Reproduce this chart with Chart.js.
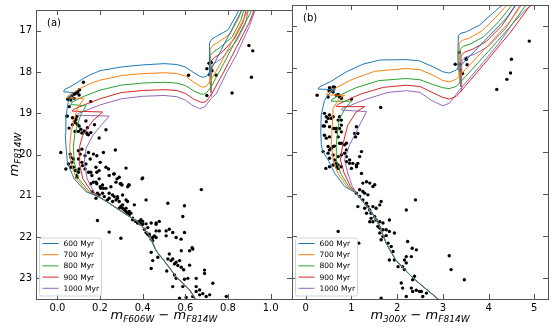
<!DOCTYPE html>
<html>
<head>
<meta charset="utf-8">
<script src="https://cdn.jsdelivr.net/npm/chart.js@4.4.1/dist/chart.umd.min.js"></script>
<style>
html, body { margin: 0; padding: 0; background: #fff; }
#wrap { position: relative; width: 554px; height: 329px; }
#wrap canvas { position: absolute; left: 0; top: 0; }
</style>
</head>
<body>
<div id="wrap">
  <canvas id="panelA" width="554" height="329"></canvas>
  <canvas id="panelB" width="554" height="329"></canvas>
</div>
<script>
// isochrone ages and colours
const ageLabels = ['600 Myr', '700 Myr', '800 Myr', '900 Myr', '1000 Myr'];
const ageColors = ['#1f77b4', '#ff7f0e', '#2ca02c', '#d62728', '#9467bd'];

// tick values
const xTicksA = [0.0, 0.2, 0.4, 0.6, 0.8, 1.0];
const xTicksB = [0, 1, 2, 3, 4, 5];
const yTicks = [17, 18, 19, 20, 21, 22, 23];

// ---- panel (a): F606W - F814W ----
// lower main sequence, common to all ages (faint -> bright)
const msLowA = [[0.66,23.6],[0.62,23.28],[0.557,22.96],[0.51,22.64],[0.463,22.33],[0.432,21.97],[0.40,21.75],[0.37,21.6],[0.337,21.5],[0.29,21.34],[0.243,21.18],[0.2,21.04]];
const isoA600 = [[0.134,20.9],[0.079,20.59],[0.047,20.19],[0.042,19.9],[0.037,19.5],[0.04,19.1],[0.05,18.75],[0.075,18.5],[0.03,18.48],[0.033,18.43],[0.06,18.36],[0.09,18.27],[0.118,18.17],[0.15,18.08],[0.2,17.97],[0.3,17.88],[0.4,17.83],[0.5,17.8],[0.56,17.82],[0.6,17.88],[0.64,18.02],[0.67,18.11],[0.686,18.13],[0.7,18.1],[0.72,17.95],[0.76,17.55],[0.81,17.05],[0.87,16.45],[0.875,16.4]];
const isoA700 = [[0.14,20.9],[0.09,20.59],[0.063,20.19],[0.058,19.8],[0.065,19.45],[0.079,19.15],[0.094,18.88],[0.125,18.64],[0.047,18.63],[0.05,18.58],[0.1,18.42],[0.15,18.29],[0.2,18.2],[0.3,18.09],[0.4,18.04],[0.5,18.02],[0.56,18.04],[0.6,18.1],[0.64,18.25],[0.67,18.35],[0.686,18.37],[0.7,18.34],[0.72,18.2],[0.77,17.75],[0.83,17.15],[0.89,16.55],[0.905,16.4]];
const isoA800 = [[0.15,20.9],[0.10,20.59],[0.079,20.19],[0.075,19.8],[0.082,19.5],[0.094,19.3],[0.11,19.03],[0.135,18.82],[0.063,18.79],[0.068,18.74],[0.12,18.6],[0.2,18.44],[0.3,18.32],[0.4,18.27],[0.5,18.25],[0.56,18.27],[0.6,18.33],[0.64,18.46],[0.67,18.53],[0.686,18.54],[0.7,18.5],[0.72,18.37],[0.78,17.8],[0.84,17.2],[0.9,16.62],[0.92,16.4]];
const isoA900 = [[0.16,20.9],[0.12,20.59],[0.102,20.19],[0.105,19.8],[0.118,19.55],[0.134,19.43],[0.165,19.19],[0.212,18.97],[0.07,18.95],[0.075,18.91],[0.13,18.79],[0.2,18.65],[0.3,18.5],[0.4,18.45],[0.5,18.43],[0.56,18.45],[0.6,18.52],[0.64,18.66],[0.67,18.73],[0.686,18.74],[0.7,18.7],[0.725,18.52],[0.78,18.0],[0.84,17.4],[0.9,16.8],[0.93,16.4]];
const isoA1000 = [[0.17,20.9],[0.14,20.59],[0.126,20.19],[0.135,19.85],[0.165,19.55],[0.196,19.35],[0.243,19.07],[0.094,19.05],[0.1,19.0],[0.15,18.9],[0.2,18.8],[0.3,18.65],[0.4,18.59],[0.5,18.57],[0.56,18.6],[0.6,18.68],[0.63,18.8],[0.667,18.89],[0.69,18.85],[0.72,18.65],[0.745,18.53],[0.79,18.05],[0.84,17.58],[0.9,16.9],[0.934,16.4]];
// core He burning + AGB branches
const agbA600 = [[0.712,18.1],[0.713,17.7],[0.714,17.3],[0.725,17.2],[0.745,17.14],[0.8,16.98],[0.84,16.62],[0.86,16.4]];
const agbA700 = [[0.715,18.3],[0.715,17.8],[0.716,17.45],[0.73,17.35],[0.755,17.28],[0.81,17.08],[0.85,16.7],[0.87,16.4]];
const agbA800 = [[0.717,18.4],[0.717,17.9],[0.718,17.6],[0.735,17.5],[0.76,17.42],[0.82,17.15],[0.86,16.75],[0.88,16.4]];
const agbA900 = [[0.719,18.5],[0.719,18.05],[0.72,17.74],[0.74,17.64],[0.765,17.56],[0.83,17.2],[0.87,16.8],[0.89,16.4]];
const agbA1000 = [[0.721,18.6],[0.721,18.15],[0.722,17.86],[0.745,17.76],[0.77,17.68],[0.84,17.25],[0.88,16.85],[0.9,16.4]];

const starsA = [
  [0.898,17.36],[0.916,17.49],[0.91,18.13],[0.819,18.51],[0.615,18.08],[0.722,17.77],[0.711,17.79],[0.701,17.92],[0.719,17.92],[0.725,17.97],[0.714,18.07],[0.745,18.08],[0.701,18.57],
  [0.122,18.25],[0.104,18.43],[0.091,18.51],[0.08,18.54],[0.068,18.58],[0.056,18.63],[0.049,18.66],[0.157,18.72],[0.056,18.84],[0.044,19.07],[0.091,19.08],[0.08,19.2],[0.071,19.28],[0.083,19.22],
  [0.083,19.44],[0.099,19.44],[0.115,19.48],[0.138,19.48],[0.146,19.52],[0.174,19.28],[0.228,19.4],[0.016,19.95],[0.06,19.99],[0.064,20.07],[0.075,20.11],[0.068,20.19],[0.052,20.23],
  [0.099,19.91],[0.107,19.99],[0.115,19.87],[0.099,20.11],[0.115,20.19],[0.13,20.03],[0.146,19.95],[0.154,20.11],[0.169,19.99],[0.185,20.03],[0.201,20.19],[0.216,19.95],[0.272,19.89],
  [0.322,20.33],[0.24,20.35],[0.264,20.47],[0.28,20.59],[0.295,20.71],[0.303,20.74],[0.334,20.74],[0.397,20.59],[0.075,20.31],[0.083,20.39],[0.091,20.51],[0.091,20.55],[0.099,20.43],
  [0.13,20.35],[0.146,20.43],[0.162,20.51],[0.185,20.43],[0.185,20.71],[0.201,20.78],[0.216,20.82],[0.169,20.67],[0.047,19.07],[0.055,19.36],[0.196,19.6],
  [0.079,18.52],[0.096,18.48],[0.102,18.56],[0.079,18.64],[0.063,18.68],[0.071,19.11],[0.087,19.15],[0.094,19.27],[0.102,19.31],[0.11,19.39],[0.126,19.43],[0.141,19.35],[0.134,19.19],[0.141,19.51],[0.157,19.47],
  [0.04,20.35],[0.063,20.31],[0.087,20.39],[0.102,20.35],[0.118,20.27],[0.134,20.23],[0.157,20.43],[0.181,20.31],[0.196,20.39],[0.228,20.31],[0.243,20.51],[0.267,20.47],[0.29,20.55],[0.275,20.67],
  [0.298,20.71],[0.33,20.78],[0.4,20.57],[0.337,20.74],[0.181,20.67],[0.196,20.59],[0.212,20.74],[0.228,20.82],[0.165,20.9],[0.196,20.98],[0.212,20.94],[0.243,21.06],[0.259,20.98],[0.275,21.1],
  [0.282,21.02],[0.29,21.14],[0.306,21.22],[0.322,21.3],[0.314,21.34],[0.337,21.38],[0.29,21.3],[0.361,21.22],[0.416,21.1],[0.518,21.18],[0.596,21.24],[0.588,21.5],[0.675,20.85],[0.188,21.6],
  [0.243,21.88],[0.298,22.03],[0.353,21.54],[0.369,21.62],[0.384,21.66],[0.4,21.62],[0.392,21.58],[0.416,21.68],[0.44,21.66],[0.463,21.69],[0.478,21.62],[0.424,21.77],[0.431,21.93],[0.447,22.01],
  [0.463,21.85],[0.51,21.85],[0.525,21.81],[0.541,21.89],[0.51,21.97],[0.557,22.01],[0.58,22.05],[0.596,21.89],[0.635,22.29],[0.62,22.33],[0.581,22.33],[0.525,22.41],[0.44,22.37],[0.447,22.57],
  [0.471,22.49],[0.518,22.53],[0.533,22.57],[0.541,22.53],[0.557,22.61],[0.549,22.65],[0.573,22.57],[0.581,22.73],[0.565,22.69],[0.44,22.76],[0.549,22.92],[0.557,23.0],[0.612,23.0],[0.651,23.0],
  [0.69,22.8],[0.69,22.88],[0.729,23.12],[0.541,23.2],[0.588,23.2],[0.651,23.32],[0.667,23.4],[0.682,23.37],[0.635,23.44],[0.714,23.4],[0.792,23.44],[0.604,23.46],[0.651,23.2],[0.667,23.28],
  [0.573,23.48],[0.698,23.44],[0.632,22.26],[0.513,22.82],[0.592,22.79],[0.62,22.68],[0.596,23.02],
  [0.298,21.26],[0.306,21.3],[0.314,21.34],[0.322,21.38],[0.329,21.42],[0.337,21.46],[0.345,21.42],[0.353,21.58],[0.369,21.62],[0.376,21.66],[0.384,21.62],[0.392,21.69],[0.4,21.69],[0.408,21.81],
  [0.416,21.89],[0.424,21.93],[0.431,21.97],[0.44,22.05],[0.447,22.09],[0.455,21.97],[0.463,22.01],[0.478,21.85],[0.463,21.66],
  [0.157,20.71],[0.204,20.82],[0.243,20.94],[0.267,21.02],[0.282,21.06],[0.22,21.02],[0.188,20.94],[0.251,20.78],[0.306,20.98],[0.322,21.1],[0.329,21.14],[0.181,21.06],[0.235,21.1],[0.259,21.14]
];

// ---- panel (b): 300X - F814W ----
const msLowB = [[2.95,23.55],[2.74,23.36],[2.52,23.16],[2.31,22.96],[2.12,22.75],[1.97,22.57],[1.85,22.35],[1.76,22.17],[1.68,21.95],[1.62,21.77],[1.52,21.57],[1.4,21.38],[1.25,21.18],[1.11,20.98]];
const isoB600 = [[0.85,20.82],[0.63,20.5],[0.49,20.19],[0.37,19.98],[0.34,19.83],[0.33,19.5],[0.34,19.12],[0.41,18.77],[0.52,18.6],[0.65,18.52],[0.27,18.5],[0.3,18.45],[0.55,18.32],[0.89,18.09],[1.25,17.91],[1.62,17.81],[2.2,17.8],[2.49,17.83],[2.78,17.97],[3.0,18.09],[3.14,18.12],[3.29,18.05],[3.5,17.82],[4.0,17.25],[4.4,16.8],[4.62,16.45],[4.65,16.4]];
const isoB700 = [[0.9,20.82],[0.7,20.5],[0.6,20.19],[0.56,19.83],[0.58,19.4],[0.6,18.96],[0.74,18.72],[0.85,18.65],[0.45,18.64],[0.47,18.6],[0.7,18.45],[1.0,18.28],[1.5,18.08],[2.2,18.01],[2.5,18.04],[2.8,18.18],[3.0,18.3],[3.14,18.33],[3.29,18.27],[3.5,18.03],[4.0,17.45],[4.5,16.85],[4.75,16.45],[4.78,16.4]];
const isoB800 = [[0.94,20.82],[0.76,20.5],[0.67,20.19],[0.67,19.83],[0.7,19.5],[0.74,19.2],[0.89,18.92],[1.0,18.79],[0.56,18.79],[0.58,18.74],[0.8,18.62],[1.1,18.47],[1.6,18.3],[2.2,18.25],[2.5,18.28],[2.8,18.4],[3.0,18.47],[3.14,18.49],[3.29,18.44],[3.5,18.2],[4.0,17.6],[4.5,16.98],[4.85,16.45],[4.88,16.4]];
const isoB900 = [[0.98,20.82],[0.84,20.5],[0.76,20.19],[0.81,19.83],[0.92,19.36],[1.11,19.04],[1.29,18.92],[0.67,18.92],[0.7,18.87],[0.9,18.77],[1.2,18.62],[1.7,18.46],[2.2,18.41],[2.5,18.44],[2.8,18.6],[3.0,18.7],[3.14,18.74],[3.29,18.68],[3.5,18.42],[4.0,17.78],[4.5,17.12],[4.95,16.45],[4.98,16.4]];
const isoB1000 = [[1.02,20.82],[0.92,20.5],[0.85,20.19],[0.96,19.83],[1.14,19.44],[1.33,19.04],[0.78,19.0],[0.8,18.96],[1.0,18.88],[1.3,18.75],[1.8,18.58],[2.2,18.54],[2.5,18.58],[2.75,18.77],[3.0,18.9],[3.14,18.84],[3.36,18.53],[3.8,17.97],[4.2,17.45],[4.53,16.94],[4.8,16.62],[5.0,16.45],[5.03,16.4]];
const agbB600 = [[3.33,18.05],[3.33,17.6],[3.34,17.22],[3.4,17.17],[3.51,17.14],[3.8,16.98],[4.09,16.7],[4.35,16.45],[4.38,16.4]];
const agbB700 = [[3.35,18.2],[3.35,17.7],[3.36,17.4],[3.43,17.34],[3.56,17.3],[3.85,17.12],[4.15,16.8],[4.45,16.45],[4.48,16.4]];
const agbB800 = [[3.37,18.35],[3.37,17.85],[3.38,17.55],[3.45,17.48],[3.6,17.43],[3.9,17.25],[4.22,16.9],[4.55,16.45],[4.58,16.4]];
const agbB900 = [[3.39,18.45],[3.39,18.0],[3.4,17.7],[3.48,17.62],[3.64,17.56],[3.95,17.37],[4.3,16.98],[4.63,16.45],[4.66,16.4]];
const agbB1000 = [[3.41,18.57],[3.41,18.1],[3.42,17.82],[3.5,17.74],[3.68,17.68],[4.0,17.48],[4.38,17.05],[4.72,16.45],[4.75,16.4]];

const starsB = [
  [4.89,17.36],[4.5,17.79],[4.48,18.12],[4.4,18.27],[4.18,18.51],[3.36,17.63],[3.51,17.77],[3.51,17.8],[3.27,17.91],[3.36,17.91],[3.53,17.92],[3.38,18.05],[3.43,18.13],[1.64,18.94],[0.25,18.65],
  [0.51,18.54],[0.56,18.53],[0.63,18.46],[0.6,18.57],[0.49,18.69],[0.71,18.63],[0.74,18.69],[0.78,18.72],[1.0,18.74],[0.52,18.47],[0.6,18.45],[0.67,18.65],
  [0.52,19.12],[0.49,19.2],[0.45,19.28],[0.41,19.38],[0.38,19.38],[0.52,19.4],[0.6,19.44],[0.67,19.44],[0.74,19.44],[0.71,19.24],[0.78,19.24],[0.41,19.6],[0.52,19.64],[0.45,19.67],[0.71,19.64],
  [0.78,19.52],[1.11,19.4],[1.14,19.56],[1.09,19.64],[0.38,19.99],[0.49,19.87],[0.52,19.95],[0.56,19.91],[0.6,19.87],[0.63,19.86],[0.49,20.03],[0.6,20.07],[0.52,20.15],[0.63,20.19],[0.71,20.11],
  [0.78,20.07],[0.85,20.03],[0.74,19.79],[0.85,19.83],[0.89,19.95],[0.89,20.11],[0.96,20.19],[1.03,20.27],[1.14,20.27],[1.22,19.99],[1.18,20.11],[0.67,20.35],[0.71,20.31],[1.11,20.35],
  [0.41,19.08],[0.45,19.16],[0.56,19.2],[0.6,19.16],[0.74,19.16],[0.78,19.36],[0.63,19.44],[0.67,19.52],[1.07,19.56],[0.78,19.79],[0.89,19.79],
  [0.44,20.39],[0.52,20.35],[0.6,20.31],[0.67,20.27],[0.71,20.39],[0.78,20.35],[0.89,20.23],[0.96,20.27],[1.0,20.39],[1.11,20.31],[1.22,20.51],[1.25,20.74],[1.33,20.71],[1.4,20.74],[1.47,20.82],
  [1.51,20.78],[1.18,20.9],[1.11,20.98],[1.18,21.06],[1.25,21.14],[1.33,21.22],[1.36,21.3],[1.4,21.38],[1.43,21.46],[1.51,21.54],[1.54,21.62],[1.62,21.66],[1.69,21.69],[1.47,21.66],[1.65,21.18],
  [1.62,21.26],[1.47,21.3],[1.29,21.34],[1.33,21.46],[1.83,21.62],[1.94,21.93],[1.76,21.85],[1.83,21.89],[1.69,21.85],[1.62,21.93],[1.69,22.01],[1.65,22.09],[1.8,22.17],[0.71,21.89],[1.16,22.17],
  [1.87,22.25],[1.91,22.37],[1.83,22.57],[1.94,22.57],[2.02,22.73],[2.16,22.57],[2.2,22.64],[2.12,22.73],[2.16,22.8],[2.2,22.49],[2.23,22.13],[2.33,22.29],[2.42,22.33],[2.31,22.49],[2.38,22.96],
  [2.34,23.04],[2.09,23.12],[2.12,23.24],[2.31,23.24],[2.34,23.32],[2.42,23.29],[2.49,23.32],[2.56,23.44],[2.53,23.32],[2.64,23.36],[2.2,23.44],[2.4,21.14],[2.2,21.38],[3.14,22.47],[3.18,22.8],
  [3.47,23.04],[1.65,23.48],[1.29,20.98],[1.36,21.02],[1.25,20.94],[1.43,21.58],[1.4,21.66],[1.58,21.77],[1.62,21.81],[1.54,21.34],[1.76,21.99],[1.14,21.3]
];

const FONT = '"DejaVu Sans", Arial, sans-serif';
const toXY = arr => arr.map(p => ({ x: p[0], y: p[1] }));

function buildDatasets(mainLines, agbLines, msLow, stars) {
    const sets = [];
    mainLines.forEach((line, i) => {
        // lower MS (faint to bright) then turnoff, subgiants and RGB
        sets.push({
            label: ageLabels[i],
            data: toXY(msLow.concat(line)),
            showLine: true, borderColor: ageColors[i], borderWidth: 1,
            pointRadius: 0, tension: 0, order: 1
        });
        sets.push({
            label: '',
            data: toXY(agbLines[i]),
            showLine: true, borderColor: ageColors[i], borderWidth: 1,
            pointRadius: 0, tension: 0, order: 1
        });
    });
    sets.push({
        label: '',
        data: toXY(stars),
        showLine: false, pointRadius: 1.7, pointBackgroundColor: '#000',
        pointBorderWidth: 0, order: 5
    });
    return sets;
}

// draw a mathtext-like label: parts [{t, sub, up}]
function drawMath(ctx, parts, cx, baseY, big, small) {
    const fontOf = p => p.up ? `${big}px ${FONT}` : `italic ${p.sub ? small : big}px ${FONT}`;
    let w = 0;
    parts.forEach(p => { ctx.font = fontOf(p); w += ctx.measureText(p.t).width; });
    let x = cx - w / 2;
    ctx.textBaseline = 'alphabetic';
    ctx.textAlign = 'left';
    parts.forEach(p => {
        ctx.font = fontOf(p);
        ctx.fillText(p.t, x, baseY + (p.sub ? big * 0.25 : 0));
        x += ctx.measureText(p.t).width;
    });
}

const framePlugin = {
    id: 'frame',
    afterDatasetsDraw(chart, args, opts) {
        const ctx = chart.ctx;
        const a = chart.chartArea;
        const xs = chart.scales.x, ys = chart.scales.y;
        ctx.save();
        ctx.strokeStyle = '#555';
        ctx.lineWidth = 1;
        ctx.strokeRect(Math.round(a.left) + 0.5, Math.round(a.top) + 0.5, Math.round(a.right - a.left), Math.round(a.bottom - a.top));
        const tl = 5;
        ctx.beginPath();
        xs.ticks.forEach(t => {
            const px = Math.round(xs.getPixelForValue(t.value)) + 0.5;
            ctx.moveTo(px, a.bottom); ctx.lineTo(px, a.bottom - tl);
            ctx.moveTo(px, a.top); ctx.lineTo(px, a.top + tl);
        });
        ys.ticks.forEach(t => {
            const py = Math.round(ys.getPixelForValue(t.value)) + 0.5;
            ctx.moveTo(a.left, py); ctx.lineTo(a.left + tl, py);
            ctx.moveTo(a.right, py); ctx.lineTo(a.right - tl, py);
        });
        ctx.stroke();

        // panel tag
        ctx.fillStyle = '#000';
        ctx.font = `10px ${FONT}`;
        ctx.textBaseline = 'alphabetic';
        ctx.fillText(opts.tag, a.left + 11, a.top + 16);

        // x title
        drawMath(ctx, opts.xTitle, (a.left + a.right) / 2, 319, 13, 9);

        // y title
        if (opts.yTitle) {
            ctx.save();
            ctx.translate(18, (a.top + a.bottom) / 2);
            ctx.rotate(-Math.PI / 2);
            drawMath(ctx, [{ t: 'm' }, { t: 'F814W', sub: true }], 0, 0, 13, 9);
            ctx.restore();
        }

        // legend
        const items = chart.data.datasets.filter(d => d.label);
        const bx = a.left + 3.5, by = a.bottom - 61, bw = 62, bh = 58;
        ctx.fillStyle = 'rgba(255,255,255,0.8)';
        ctx.strokeStyle = '#cccccc';
        ctx.lineWidth = 0.8;
        ctx.beginPath();
        ctx.roundRect(bx, by, bw, bh, 2);
        ctx.fill();
        ctx.stroke();
        ctx.font = `7.5px ${FONT}`;
        ctx.textBaseline = 'middle';
        items.forEach((d, i) => {
            const y = by + 5.5 + i * 11.2;
            ctx.strokeStyle = d.borderColor;
            ctx.lineWidth = 1;
            ctx.beginPath();
            ctx.moveTo(bx + 3, y); ctx.lineTo(bx + 19, y);
            ctx.stroke();
            ctx.fillStyle = '#000';
            ctx.fillText(d.label, bx + 24, y + 0.5);
        });
        ctx.restore();
    }
};

function makePanel(id, p) {
    return new Chart(document.getElementById(id), {
        type: 'scatter',
        data: { datasets: p.datasets },
        options: {
            responsive: false,
            animation: false,
            events: [],
            layout: { padding: { left: p.padL, right: p.padR, top: 5, bottom: 0 }, autoPadding: false },
            scales: {
                x: {
                    type: 'linear', min: p.xMin, max: p.xMax,
                    afterBuildTicks: s => { s.ticks = p.xTicks.map(v => ({ value: v })); },
                    afterFit: s => { s.height = 30; },
                    grid: { display: false, drawTicks: false },
                    border: { display: false },
                    ticks: {
                        color: '#000', padding: 3, maxRotation: 0, autoSkip: false,
                        font: { family: FONT, size: 10 },
                        callback: p.xFmt
                    }
                },
                y: {
                    type: 'linear', reverse: true, min: 16.5, max: 23.5,
                    afterBuildTicks: s => { s.ticks = yTicks.map(v => ({ value: v })); },
                    afterFit: s => { s.width = p.yW; },
                    grid: { display: false, drawTicks: false },
                    border: { display: false },
                    ticks: {
                        display: p.yLabels, color: '#000', padding: 4,
                        font: { family: FONT, size: 10 },
                        callback: v => String(v)
                    }
                }
            },
            plugins: {
                legend: { display: false },
                tooltip: { enabled: false },
                frame: { tag: p.tag, xTitle: p.xTitle, yTitle: p.yLabels }
            }
        },
        plugins: [framePlugin]
    });
}

makePanel('panelA', {
    datasets: buildDatasets([isoA600, isoA700, isoA800, isoA900, isoA1000],
                            [agbA600, agbA700, agbA800, agbA900, agbA1000], msLowA, starsA),
    padL: 0, padR: 262, yW: 36, yLabels: true,
    xMin: -0.1, xMax: 1.1, xTicks: xTicksA, xFmt: v => v.toFixed(1),
    tag: '(a)',
    xTitle: [{ t: 'm' }, { t: 'F606W', sub: true }, { t: ' \u2212 ', up: true }, { t: 'm' }, { t: 'F814W', sub: true }]
});

makePanel('panelB', {
    datasets: buildDatasets([isoB600, isoB700, isoB800, isoB900, isoB1000],
                            [agbB600, agbB700, agbB800, agbB900, agbB1000], msLowB, starsB),
    padL: 292, padR: 6, yW: 0, yLabels: false,
    xMin: -0.3, xMax: 5.3, xTicks: xTicksB, xFmt: v => String(v),
    tag: '(b)',
    xTitle: [{ t: 'm' }, { t: '300X', sub: true }, { t: ' \u2212 ', up: true }, { t: 'm' }, { t: 'F814W', sub: true }]
});
</script>
</body>
</html>
